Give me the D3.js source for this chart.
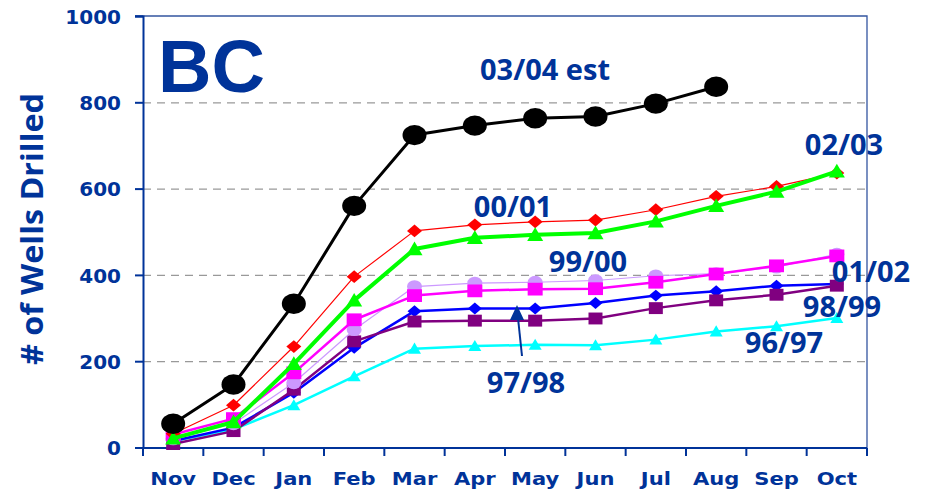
<!DOCTYPE html>
<html>
<head>
<meta charset="utf-8">
<script src="https://cdn.jsdelivr.net/npm/d3@7"></script>
<style>
  body { margin: 0; background: #fff; }
  svg { display: block; }
</style>
</head>
<body>
<script>
const width = 931, height = 493
const margin = {top: 16, right: 64, bottom: 45, left: 143}
const blue = "#003399"

const months = ["Nov", "Dec", "Jan", "Feb", "Mar", "Apr", "May", "Jun", "Jul", "Aug", "Sep", "Oct"]
const yTicks = [0, 200, 400, 600, 800, 1000]

// wells drilled, cumulative, by season
const s9697 = [15, 42, 98, 165, 229, 235, 238, 237, 250, 269, 281, 300]
const s9798 = [15, 46, 127, 231, 316, 322, 322, 335, 352, 362, 375, 379]
const s9899 = [8, 38, 134, 246, 292, 294, 294, 299, 323, 341, 354, 375]
const s9900 = [20, 55, 150, 273, 373, 381, 383, 387, 398, 403, 418, 448]
const s0001 = [32, 98, 234, 396, 502, 516, 523, 527, 551, 582, 605, 636]
const s0102 = [30, 67, 173, 296, 352, 363, 367, 368, 383, 402, 421, 444]
const s0203 = [21, 59, 194, 341, 460, 486, 493, 497, 524, 560, 593, 640]
const s0304 = [55, 146, 333, 560, 724, 746, 763, 767, 797, 836]

const series = [
    {values: s9697, color: "#00ffff", lw: 2.5, shape: "triangle", size: 13},
    {values: s9798, color: "#0000ff", lw: 2.5, shape: "diamond", size: 14},
    {values: s9899, color: "#800080", lw: 2.5, shape: "square", size: 14},
    {values: s9900, color: "#cc99ff", lw: 1.2, shape: "circle", size: 15},
    {values: s0102, color: "#ff00ff", lw: 2.5, shape: "square", size: 15},
    {values: s0001, color: "#ff0000", lw: 1.2, shape: "diamond", size: 15},
    {values: s0203, color: "#00ff00", lw: 4, shape: "triangle", size: 16},
    {values: s0304, color: "#000000", lw: 3, shape: "circle", size: 24},
]

const labels = [
    {text: "03/04 est", x: 545, y: 80},
    {text: "00/01", x: 513, y: 217},
    {text: "99/00", x: 588, y: 272},
    {text: "97/98", x: 526, y: 393},
    {text: "02/03", x: 844, y: 155},
    {text: "01/02", x: 871, y: 282},
    {text: "98/99", x: 842, y: 317},
    {text: "96/97", x: 784, y: 353},
]

const svg = d3.select("body").append("svg")
    .attr("width", width)
    .attr("height", height)

const x0 = margin.left, x1 = width - margin.right
const y0 = height - margin.bottom, y1 = margin.top

const x = d3.scaleBand().domain(months).range([x0, x1])
const cx = m => x(m) + x.bandwidth() / 2
const y = d3.scaleLinear().domain([0, 1000]).range([y0 - 0.5, y1])

// grid
svg.append("g")
    .attr("transform", `translate(${x0},0)`)
    .call(d3.axisLeft(y).tickValues([200, 400, 600, 800]).tickSize(-(x1 - x0)).tickFormat(""))
    .call(g => g.select(".domain").remove())
    .call(g => g.selectAll("line").attr("stroke", "#999").attr("stroke-width", 1.2).attr("stroke-dasharray", "8,6"))

// frame
svg.append("path")
    .attr("d", `M${x0 - 8},${y1}H${x1}V${y0}`)
    .attr("fill", "none").attr("stroke", "#3355a0").attr("stroke-width", 1.3)

// y axis
svg.append("g")
    .attr("transform", `translate(${x0},0)`)
    .call(d3.axisLeft(y).tickValues(yTicks).tickSize(8).tickPadding(14).tickFormat(d3.format("d")))
    .call(g => g.select(".domain").attr("stroke", blue).attr("stroke-width", 2))
    .call(g => g.selectAll("line").attr("stroke", blue).attr("stroke-width", 2))
    .call(g => g.selectAll("text")
        .attr("fill", blue).attr("font-family", "DejaVu Sans").attr("font-weight", "bold")
        .attr("font-size", 20).attr("dy", "0.36em"))

// x axis
const xg = svg.append("g").attr("transform", `translate(0,${y0})`)
xg.append("line").attr("x1", x0).attr("x2", x1).attr("stroke", blue).attr("stroke-width", 2)
xg.selectAll(".tk").data(months.map(m => x(m)).concat([x1])).enter()
    .append("line")
    .attr("x1", d => d).attr("x2", d => d)
    .attr("y1", 0).attr("y2", 8)
    .attr("stroke", blue).attr("stroke-width", 2)
xg.selectAll(".lb").data(months).enter()
    .append("text")
    .attr("transform", d => `translate(${cx(d)},37) scale(1.17,1)`)
    .attr("text-anchor", "middle")
    .attr("fill", blue).attr("font-family", "DejaVu Sans").attr("font-weight", "bold")
    .attr("font-size", 18)
    .text(d => d)

// y title
svg.append("text")
    .attr("transform", `translate(43,229) rotate(-90)`)
    .attr("text-anchor", "middle")
    .attr("fill", blue).attr("font-family", "Open Sans").attr("font-weight", "bold")
    .attr("font-size", 31)
    .attr("textLength", 272).attr("lengthAdjust", "spacingAndGlyphs")
    .text("# of Wells Drilled")

// lines and markers
const line = d3.line().x((d, i) => cx(months[i])).y(d => y(d))

function marker(sel, s) {
    const w = s.size, h = s.size * 0.85
    if (s.shape === "circle") {
        sel.append("ellipse").attr("rx", w / 2).attr("ry", h / 2)
    } else if (s.shape === "square") {
        sel.append("rect").attr("x", -w / 2).attr("y", -h / 2).attr("width", w).attr("height", h)
    } else if (s.shape === "diamond") {
        sel.append("path").attr("d", `M0,${-h / 2}L${w / 2},0L0,${h / 2}L${-w / 2},0Z`)
    } else {
        sel.append("path").attr("d", `M0,${-h * 0.55}L${w / 2},${h * 0.45}L${-w / 2},${h * 0.45}Z`)
    }
}

series.forEach(s => {
    const g = svg.append("g")
    g.append("path")
        .attr("d", line(s.values))
        .attr("fill", "none").attr("stroke", s.color).attr("stroke-width", s.lw)
        .attr("stroke-linejoin", "round")
    g.selectAll(".m").data(s.values).enter()
        .append("g")
        .attr("transform", (d, i) => `translate(${cx(months[i])},${y(d)})`)
        .attr("fill", s.color)
        .each(function () { marker(d3.select(this), s) })
})

// arrow for 97/98
svg.append("line")
    .attr("x1", 522).attr("y1", 356).attr("x2", 518).attr("y2", 318)
    .attr("stroke", blue).attr("stroke-width", 2)
svg.append("path")
    .attr("d", "M517,305L524,320L510,320Z")
    .attr("fill", blue)

// series labels
svg.selectAll(".sl").data(labels).enter()
    .append("text")
    .attr("x", d => d.x).attr("y", d => d.y)
    .attr("text-anchor", "middle")
    .attr("fill", blue).attr("font-family", "Open Sans").attr("font-weight", "bold")
    .attr("font-size", 29)
    .text(d => d.text)

svg.append("text")
    .attr("x", 158).attr("y", 92)
    .attr("fill", blue).attr("font-family", "Liberation Sans").attr("font-weight", "bold")
    .attr("font-size", 74)
    .text("BC")
</script>
</body>
</html>
